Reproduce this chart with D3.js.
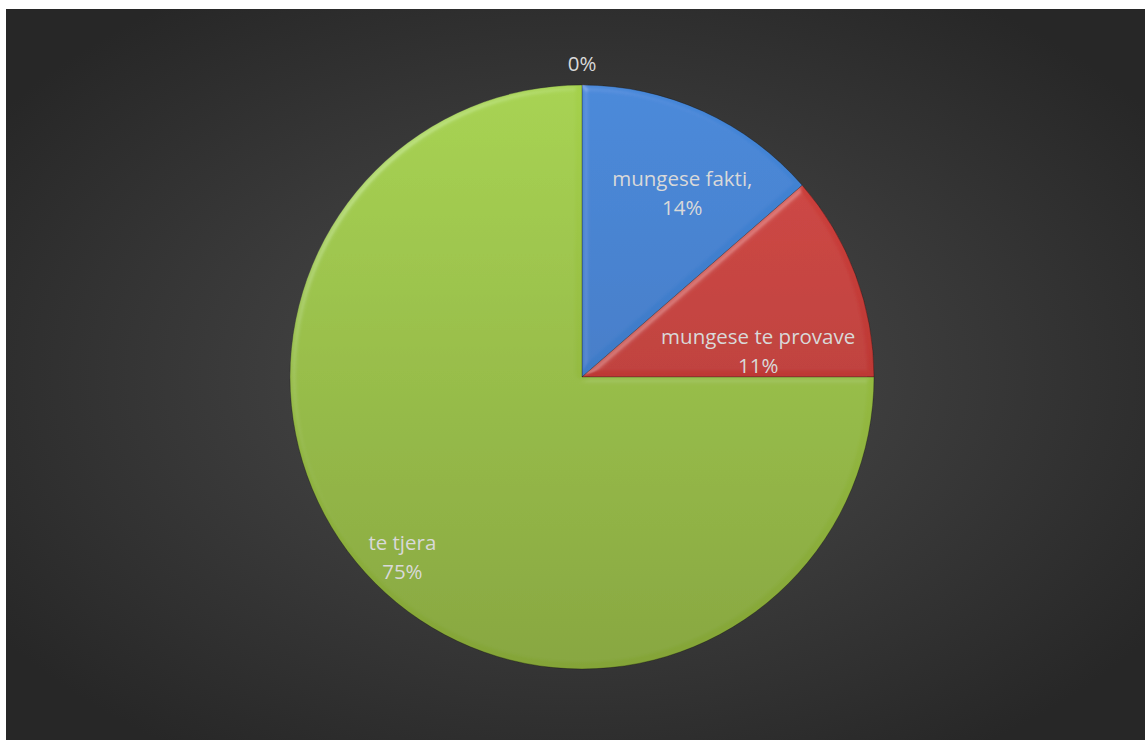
<!DOCTYPE html>
<html><head><meta charset="utf-8">
<script src="https://cdn.jsdelivr.net/npm/d3@7"></script>
<style>html,body{margin:0;padding:0;background:#fff;}svg{display:block;}</style>
</head><body>
<svg id="chart" width="1145" height="740"></svg>
<script>
const categories = ["", "mungese fakti", "mungese te provave", "te tjera"];
const values = [0, 13.6, 11.4, 75];
const labelTexts = [["0%"], ["mungese fakti,", "14%"], ["mungese te provave", "11%"], ["te tjera", "75%"]];
const colorsTop = ["#4386d8", "#4386d8", "#d2423e", "#a5d14c"];
const colorsBottom = ["#3a6fb6", "#3a6fb6", "#a9302c", "#84a437"];

const svg = d3.select("#chart");
const W = 1145, H = 740;
const defs = svg.append("defs");
const bg = defs.append("radialGradient").attr("id","bg").attr("cx","50%").attr("cy","50%").attr("r","62%");
bg.append("stop").attr("offset","0%").attr("stop-color","#4d4d4d");
bg.append("stop").attr("offset","100%").attr("stop-color","#272727");
svg.append("rect").attr("x",6).attr("y",9).attr("width",W-6).attr("height",H-9).attr("fill","url(#bg)");

const cx = 582, cy = 377, R = 292;
const g = svg.append("g").attr("transform",`translate(${cx},${cy})`);
const pie = d3.pie().sort(null).value(d=>d)(values);
const arc = d3.arc().innerRadius(0).outerRadius(R);

pie.forEach((p,i)=>{
  const gr = defs.append("linearGradient").attr("id","sg"+i)
    .attr("gradientUnits","userSpaceOnUse").attr("x1",0).attr("y1",-R).attr("x2",0).attr("y2",R);
  gr.append("stop").attr("offset","0%").attr("stop-color",colorsTop[i]);
  gr.append("stop").attr("offset","100%").attr("stop-color",colorsBottom[i]);
});
const bevel = defs.append("filter").attr("id","bevel").attr("x","-5%").attr("y","-5%").attr("width","110%").attr("height","110%");
bevel.append("feGaussianBlur").attr("in","SourceAlpha").attr("stdDeviation",3).attr("result","blur");
bevel.append("feSpecularLighting").attr("in","blur").attr("surfaceScale",3).attr("specularConstant",0.6)
  .attr("specularExponent",22).attr("lighting-color","#ffffff").attr("result","spec")
  .append("feDistantLight").attr("azimuth",225).attr("elevation",40);
bevel.append("feComposite").attr("in","spec").attr("in2","SourceAlpha").attr("operator","in").attr("result","specIn");
bevel.append("feComposite").attr("in","SourceGraphic").attr("in2","specIn").attr("operator","arithmetic")
  .attr("k1",0).attr("k2",1).attr("k3",0.22).attr("k4",0);

g.selectAll("path.slice").data(pie).enter().append("path").attr("class","slice")
  .attr("d",arc).attr("fill",(d,i)=>`url(#sg${i})`).attr("filter","url(#bevel)")
  .attr("stroke","rgba(0,0,0,0.35)").attr("stroke-width",0.8);

// label placement: radius fraction and angle shift per slice
const labelRadius = [1.075, 0.72, 0.61, 0.87];
const labelShift = [0, 0.07, 0.21, 0];
const lineH = 29;
pie.forEach((p,i)=>{
  const a = (p.startAngle + p.endAngle)/2 + labelShift[i];
  const r = R*labelRadius[i];
  const x = Math.sin(a)*r, y = -Math.cos(a)*r;
  const lines = labelTexts[i];
  const t = g.append("text").attr("x",x).attr("y",y - (lines.length-1)*lineH/2)
    .attr("text-anchor","middle").attr("dominant-baseline","central")
    .attr("font-family","'Open Sans', 'Liberation Sans', sans-serif").attr("font-size",20.5).attr("fill","#d9d9d9");
  lines.forEach((l,j)=>t.append("tspan").attr("x",x).attr("dy",j===0?0:lineH).text(l));
});
</script>
</body></html>
